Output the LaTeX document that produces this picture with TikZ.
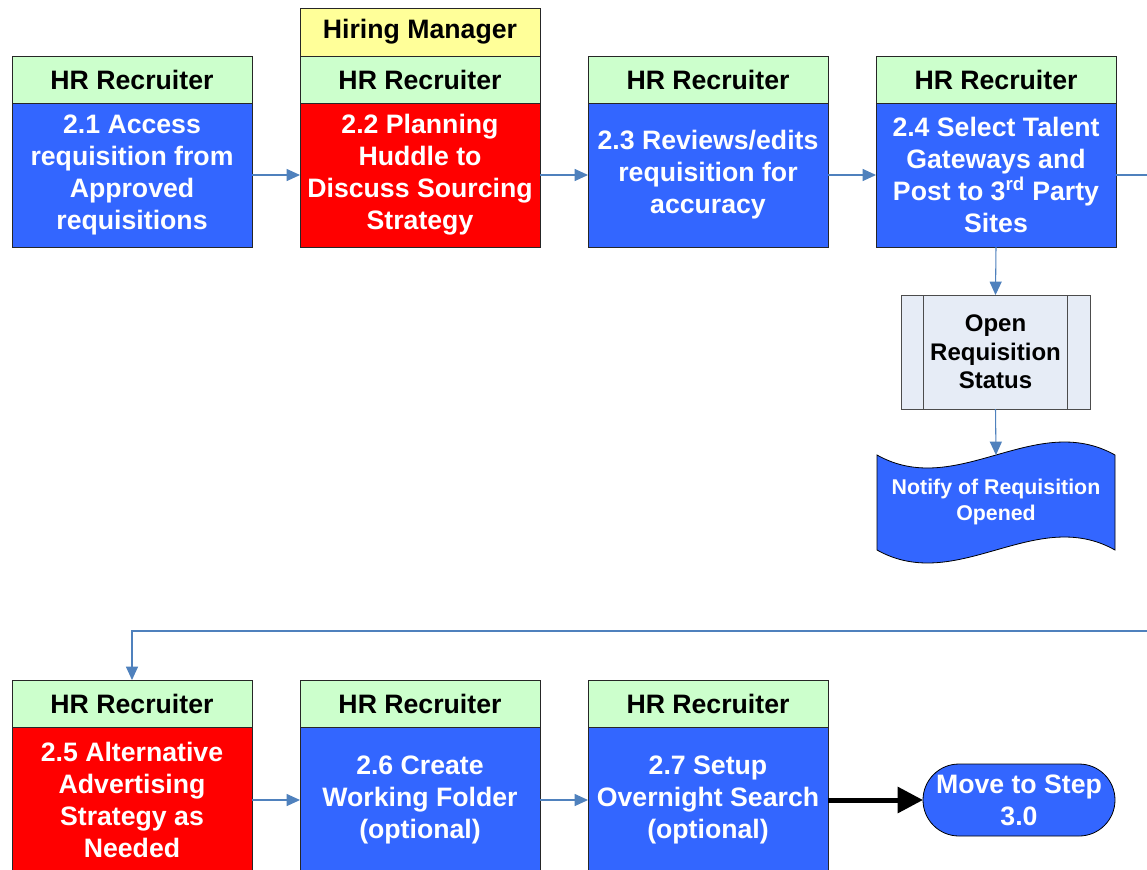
\documentclass[tikz,border=0pt]{standalone}
\usepackage{fontspec}
\setmainfont{Liberation Sans}
\usetikzlibrary{arrows.meta,calc}
\definecolor{bluebox}{HTML}{3366FF}
\definecolor{redbox}{HTML}{FF0000}
\definecolor{greenhdr}{HTML}{CCFFCC}
\definecolor{yellowhdr}{HTML}{FFFF99}
\definecolor{conn}{HTML}{4F81BD}
\definecolor{procfill}{HTML}{E6ECF6}
\begin{document}
\begin{tikzpicture}[x=0.75pt,y=-0.75pt,
 box/.style={draw=black!85, line width=0.6pt, inner sep=0pt, outer sep=0pt, minimum width=180pt, align=center, font=\fontsize{20}{24}\selectfont\bfseries},
 hdr/.style={box, fill=greenhdr, minimum height=35.25pt},
 mgr/.style={box, fill=yellowhdr, minimum height=36pt},
 bluebody/.style={box, fill=bluebox, text=white, minimum height=108pt},
 redbody/.style={box, fill=redbox, text=white, minimum height=108pt},
 lowbody/.style={minimum height=109.5pt},
 flow/.style={draw=conn, line width=0.8pt, -{Triangle[length=10pt,width=9pt]}},
 flowline/.style={draw=conn, line width=0.8pt},
 bigflow/.style={draw=black, line width=3.75pt, -{Triangle[length=19pt,width=19pt]}},
 procbox/.style={draw=black!70, fill=procfill, line width=0.6pt, minimum width=141.75pt, minimum height=85.5pt, inner sep=0pt, outer sep=0pt, align=center, font=\fontsize{18}{21.4}\selectfont\bfseries},
 docshape/.style={draw=black, fill=bluebox, line width=0.6pt},
 doctext/.style={text=white, align=center, font=\fontsize{16}{19.5}\selectfont\bfseries},
 terminal/.style={draw=black, fill=bluebox, line width=0.6pt, rounded corners=27pt, minimum width=144pt, minimum height=54pt, inner sep=0pt, outer sep=0pt, text=white, align=center, font=\fontsize{20}{24}\selectfont\bfseries},
 ]
\clip (0,0) rectangle (1147,869);
\fill[white] (0,0) rectangle (1147,869);

% top row
\node[hdr] (h1) at (132,79.5) {HR Recruiter};
\node[bluebody] (b1) at (132,175) {2.1 Access\\requisition from\\Approved\\requisitions};

\node[mgr] (m2) at (420,32) {Hiring Manager};
\node[hdr] (h2) at (420,79.5) {HR Recruiter};
\node[redbody] (b2) at (420,175) {2.2 Planning\\Huddle to\\Discuss Sourcing\\Strategy};

\node[hdr] (h3) at (708,79.5) {HR Recruiter};
\node[bluebody] (b3) at (708,175) {2.3 Reviews/edits\\requisition for\\accuracy};

\node[hdr] (h4) at (996,79.5) {HR Recruiter};
\node[bluebody] (b4) at (996,175) {2.4 Select Talent\\Gateways and\\Post to 3\textsuperscript{rd} Party\\Sites};

% open requisition status
\node[procbox] (open) at (995.5,352) {Open\\Requisition\\Status};
\draw[black!70, line width=0.6pt] ($(open.north west)+(22,0)$) -- ($(open.south west)+(22,0)$);
\draw[black!70, line width=0.6pt] ($(open.north east)+(-23,0)$) -- ($(open.south east)+(-23,0)$);

% document
\draw[docshape] (877,455) .. controls (957,500) and (1035,410) .. (1115,455) -- (1115,550) .. controls (1035,505) and (957,595) .. (877,550) -- cycle;
\node[doctext] (notify) at (996,502) {Notify of Requisition\\Opened};
\coordinate (notifytop) at (996,455);

% bottom row
\node[hdr] (h5) at (132,703.5) {HR Recruiter};
\node[redbody, lowbody] (b5) at (132,800) {2.5 Alternative\\Advertising\\Strategy as\\Needed};

\node[hdr] (h6) at (420,703.5) {HR Recruiter};
\node[bluebody, lowbody] (b6) at (420,800) {2.6 Create\\Working Folder\\(optional)};

\node[hdr] (h7) at (708,703.5) {HR Recruiter};
\node[bluebody, lowbody] (b7) at (708,800) {2.7 Setup\\Overnight Search\\(optional)};

\node[terminal] (move) at (1019,800) {Move to Step\\3.0};

% connectors
\coordinate (off1) at (1160,175);
\coordinate (off2) at (1160,631);
\coordinate (bend) at (132,631);

\draw[flow] (b1.east) -- (b2.west);
\draw[flow] (b2.east) -- (b3.west);
\draw[flow] (b3.east) -- (b4.west);
\draw[flowline] (b4.east) -- (off1);
\draw[flow] (b4.south) -- (open.north);
\draw[flow] (open.south) -- (notifytop);
\draw[flow] (off2) -- (bend) -- (h5.north);
\draw[flow] (b5.east) -- (b6.west);
\draw[flow] (b6.east) -- (b7.west);
\draw[bigflow] (b7.east) -- (move.west);
\end{tikzpicture}
\end{document}
